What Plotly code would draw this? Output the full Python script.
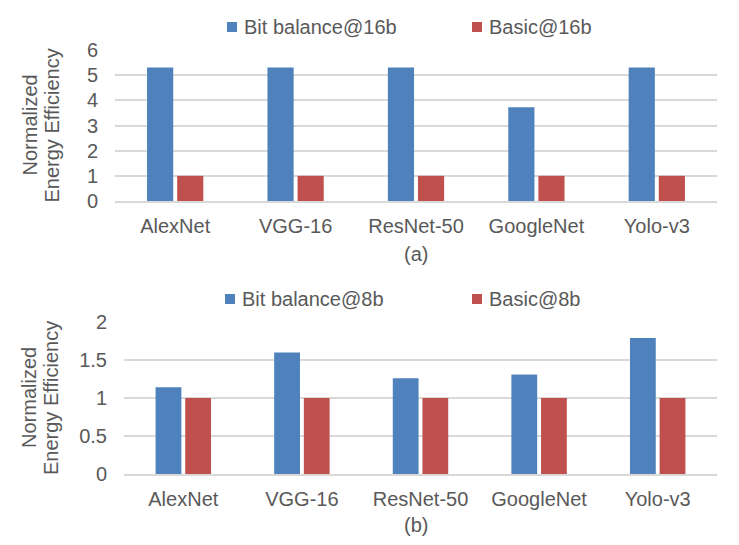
import plotly.graph_objects as go
from plotly.subplots import make_subplots

# Data
networks = ["AlexNet", "VGG-16", "ResNet-50", "GoogleNet", "Yolo-v3"]
bitbal_16b = [5.3, 5.3, 5.3, 3.73, 5.3]
basic_16b = [1, 1, 1, 1, 1]
bitbal_8b = [1.14, 1.60, 1.26, 1.31, 1.79]
basic_8b = [1, 1, 1, 1, 1]

BLUE = "#4F81BD"
RED = "#C0504D"
GRID = "#D9D9D9"
TXT = "#595959"
FONT = "Liberation Sans, Arial, sans-serif"

# the page body has an 8px margin, so the figure is drawn 8px in from the corner
OFF = 8
W, H = 739 - OFF, 545 - OFF


def px(x):
    return (x - OFF) / W


def py(y):
    return 1 - (y - OFF) / H


fig = make_subplots(rows=2, cols=1)

# top panel (a)
fig.add_trace(go.Bar(x=networks, y=bitbal_16b, name="Bit balance@16b", marker_color=BLUE), row=1, col=1)
fig.add_trace(go.Bar(x=networks, y=basic_16b, name="Basic@16b", marker_color=RED), row=1, col=1)
# bottom panel (b)
fig.add_trace(go.Bar(x=networks, y=bitbal_8b, name="Bit balance@8b", marker_color=BLUE), row=2, col=1)
fig.add_trace(go.Bar(x=networks, y=basic_8b, name="Basic@8b", marker_color=RED), row=2, col=1)

fig.update_traces(marker_line_width=0, showlegend=False)

axis_font = dict(family=FONT, size=20, color=TXT)

fig.update_xaxes(showgrid=False, showline=True, linecolor=GRID, linewidth=1.5,
                 ticks="", tickfont=axis_font, ticklabelstandoff=6, automargin=False)
fig.update_yaxes(showgrid=True, gridcolor=GRID, gridwidth=1.5, zeroline=False,
                 ticks="", tickfont=axis_font, ticklabelstandoff=16, automargin=False)

fig.update_layout(
    xaxis=dict(domain=[px(115), px(717)]),
    yaxis=dict(domain=[py(201), py(50)], range=[0, 6], dtick=1),
    xaxis2=dict(domain=[px(124), px(717)]),
    yaxis2=dict(domain=[py(474), py(322)], range=[0, 2], dtick=0.5),
)

# legends drawn by hand (Excel style: small square + text)
legend_items = [
    # (square left x, text left x, centre y, colour, label)
    (227, 242, 27, BLUE, "Bit balance@16b"),
    (472, 487, 27, RED, "Basic@16b"),
    (225, 240, 299, BLUE, "Bit balance@8b"),
    (472, 487, 299, RED, "Basic@8b"),
]
for sx, tx, cy, col, label in legend_items:
    fig.add_shape(type="rect", xref="paper", yref="paper",
                  x0=px(sx), x1=px(sx + 10), y0=py(cy + 5), y1=py(cy - 5),
                  fillcolor=col, line_width=0)
    fig.add_annotation(text=label, x=px(tx), y=py(cy), xref="paper", yref="paper",
                       showarrow=False, font=axis_font, xanchor="left", yanchor="middle")

# y-axis titles and panel captions
for yc, cap, cy in [((50 + 201) / 2, "(a)", 254), ((322 + 474) / 2, "(b)", 525)]:
    for line, lx in [("Normalized", 29), ("Energy Efficiency", 51)]:
        fig.add_annotation(text=line, textangle=-90, x=px(lx), y=py(yc),
                           xref="paper", yref="paper", showarrow=False, font=axis_font,
                           xanchor="center", yanchor="middle")
    fig.add_annotation(text=cap, x=px(416), y=py(cy), xref="paper", yref="paper",
                       showarrow=False, font=axis_font, xanchor="center", yanchor="middle")

fig.update_layout(
    width=W, height=H,
    margin=dict(l=0, r=0, t=0, b=0),
    barmode="group", bargap=0.5, bargroupgap=0.13,
    showlegend=False,
    plot_bgcolor="white", paper_bgcolor="white",
    font=dict(family=FONT, color=TXT),
)

fig.write_html("out.html")
